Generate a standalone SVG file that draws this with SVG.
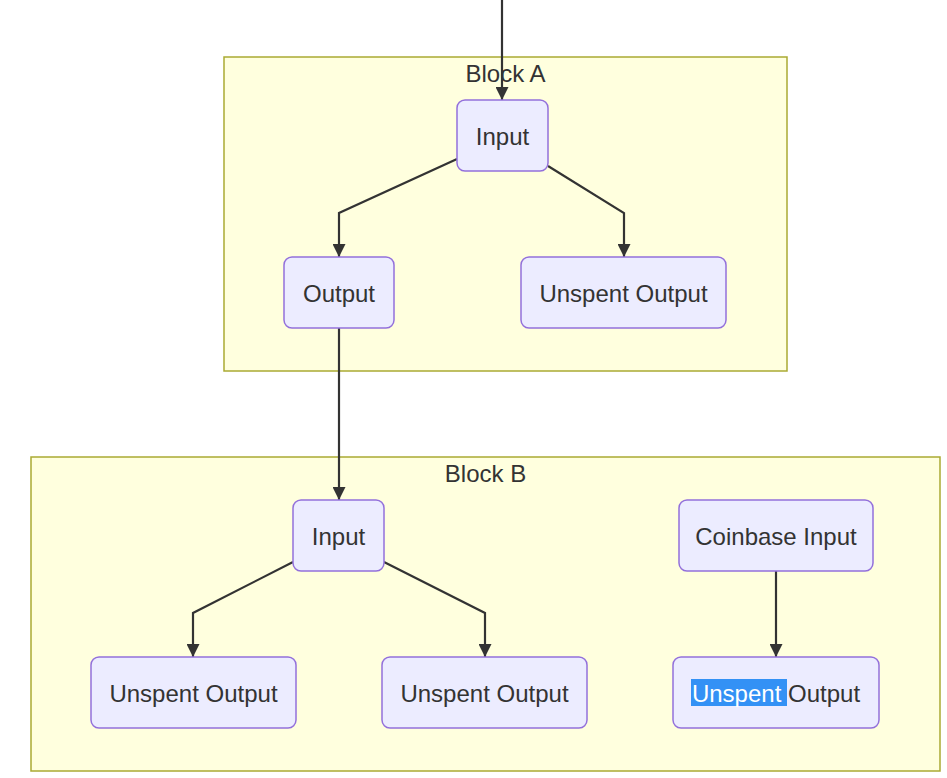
<svg xmlns="http://www.w3.org/2000/svg" width="947" height="778" viewBox="0 0 947 778">
<style>
.cluster{fill:#ffffde;stroke:#aaaa33;stroke-width:1.5}
.node rect.box{fill:#ececff;stroke:#9370db;stroke-width:1.5}
.node rect.sel{fill:#3391f5;stroke:none}
text{font-family:"Liberation Sans",Arial,sans-serif;font-size:24px;fill:#333;text-anchor:middle}
.edge{fill:none;stroke:#333;stroke-width:2.2}
</style>
<defs>
<marker id="arr" viewBox="0 0 10 10" refX="10" refY="5" markerUnits="userSpaceOnUse" markerWidth="13" markerHeight="13" orient="auto">
<path d="M0,0 L10,5 L0,10 z" fill="#333"/>
</marker>
</defs>
<rect width="947" height="778" fill="#ffffff"/>
<g id="blockA">
<rect class="cluster" x="224" y="57" width="563" height="314"/>
<text x="505.5" y="82">Block A</text>
</g>
<g id="blockB">
<rect class="cluster" x="31" y="457" width="909" height="314"/>
<text x="485.5" y="482">Block B</text>
</g>
<g id="connectors">
<path class="edge" d="M502,0 L502,100" marker-end="url(#arr)"/>
<path class="edge" d="M457,159 L339,213 L339,257" marker-end="url(#arr)"/>
<path class="edge" d="M548,166 L624,213 L624,257" marker-end="url(#arr)"/>
<path class="edge" d="M339,328 L339,500" marker-end="url(#arr)"/>
<path class="edge" d="M293,562 L193,613 L193,657" marker-end="url(#arr)"/>
<path class="edge" d="M384,562 L485,613 L485,657" marker-end="url(#arr)"/>
<path class="edge" d="M776,571 L776,657" marker-end="url(#arr)"/>
</g>
<g id="inputA" class="node">
<rect class="box" x="457" y="100" width="91" height="71" rx="8"/>
<text x="502.5" y="144.5">Input</text>
</g>
<g id="outputA" class="node">
<rect class="box" x="284" y="257" width="110" height="71" rx="8"/>
<text x="339" y="301.5">Output</text>
</g>
<g id="unspentA" class="node">
<rect class="box" x="521" y="257" width="205" height="71" rx="8"/>
<text x="623.5" y="301.5">Unspent Output</text>
</g>
<g id="inputB" class="node">
<rect class="box" x="293" y="500" width="91" height="71" rx="8"/>
<text x="338.5" y="544.5">Input</text>
</g>
<g id="coinbaseB" class="node">
<rect class="box" x="679" y="500" width="194" height="71" rx="8"/>
<text x="776" y="544.5">Coinbase Input</text>
</g>
<g id="unspentB1" class="node">
<rect class="box" x="91" y="657" width="205" height="71" rx="8"/>
<text x="193.5" y="701.5">Unspent Output</text>
</g>
<g id="unspentB2" class="node">
<rect class="box" x="382" y="657" width="205" height="71" rx="8"/>
<text x="484.5" y="701.5">Unspent Output</text>
</g>
<g id="unspentB3" class="node">
<rect class="box" x="673" y="657" width="206" height="71" rx="8"/>
<rect class="sel" x="691" y="679" width="96" height="27"/>
<text x="776" y="701.5"><tspan fill="#ffffff">Unspent </tspan>Output</text>
</g>
</svg>
